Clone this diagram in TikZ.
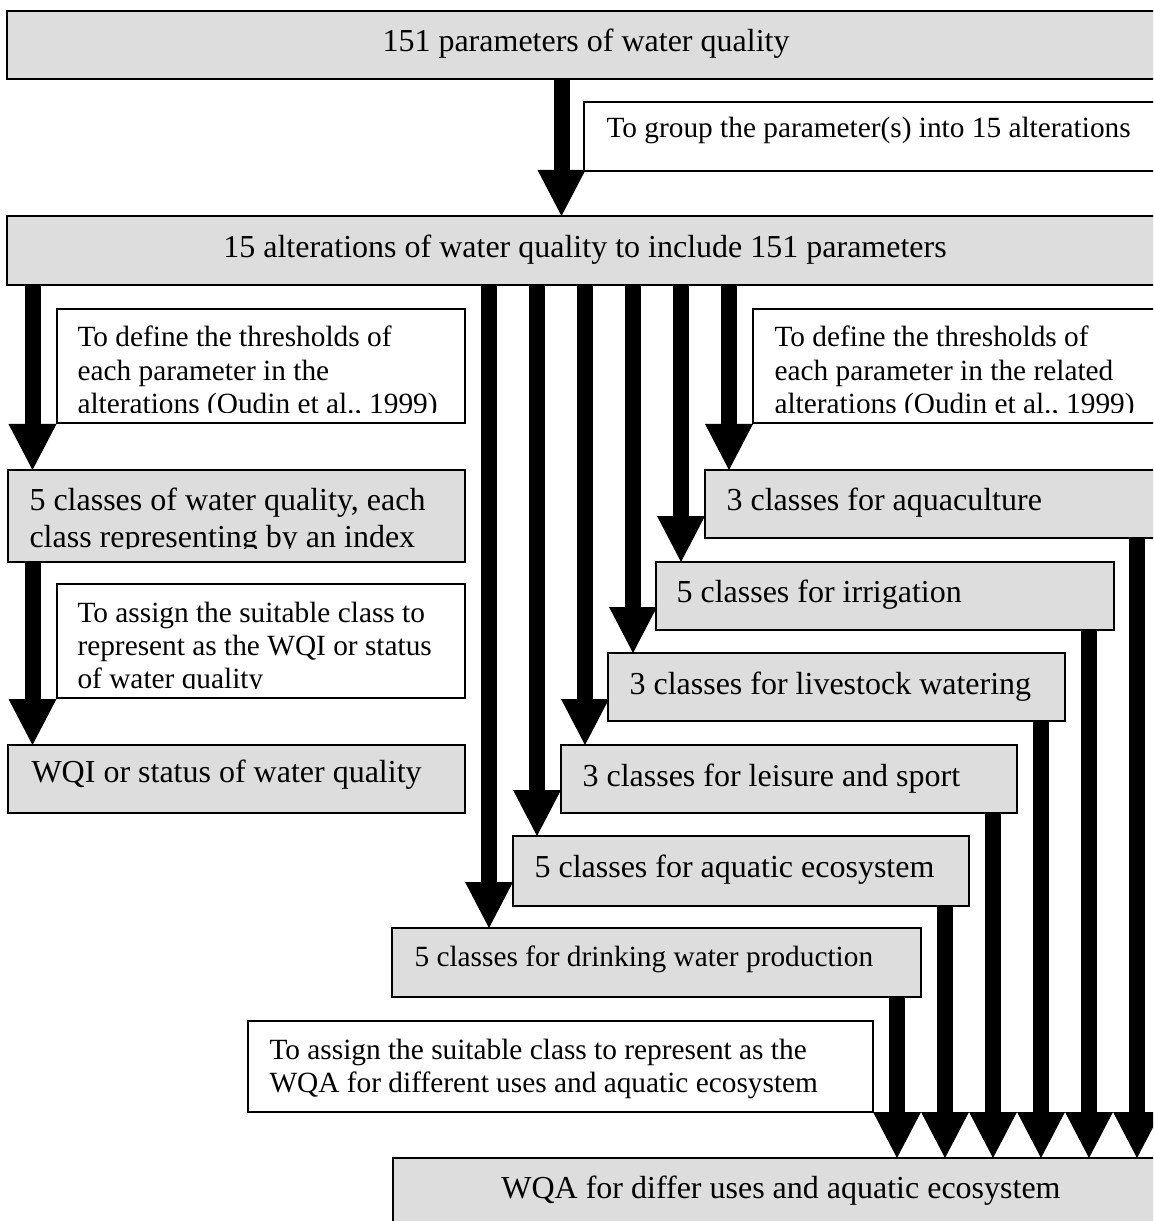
\documentclass[tikz,border=0pt]{standalone}
\usepackage{fontspec}
\setmainfont{Liberation Serif}
\usetikzlibrary{arrows.meta,fit,calc}
\definecolor{boxgray}{RGB}{221,221,221}
\tikzset{
  box/.style={draw=black, line width=0.8pt, inner sep=0pt, outer sep=0pt, fit={#1}},
  gbox/.style={box={#1}, fill=boxgray},
  wbox/.style={box={#1}, fill=white},
  bigtext/.style={font=\fontsize{12}{13.9}\selectfont, inner sep=0pt, anchor=base west},
  smalltext/.style={font=\fontsize{11}{12.4}\selectfont, inner sep=0pt, anchor=base west},
  ctext/.style={bigtext, anchor=base},
  flow/.style={line width=6pt, -{Triangle[width=18pt,length=17.25pt,line width=0pt]}},
}
\newcommand{\mylines}[1]{\parbox[t]{300pt}{\raggedright #1}}
\begin{document}
\begin{tikzpicture}[x=0.375pt,y=-0.375pt]
\useasboundingbox (0,0) rectangle (1153,1221);
\clip (0,0) rectangle (1153,1221);

% column coordinates
\coordinate (cT) at (561.5,0);
\coordinate (cL) at (32.5,0);
\coordinate (d1) at (489,0);
\coordinate (d2) at (537,0);
\coordinate (d3) at (585,0);
\coordinate (d4) at (633,0);
\coordinate (d5) at (681,0);
\coordinate (d6) at (729,0);
\coordinate (u1) at (897,0);
\coordinate (u2) at (945,0);
\coordinate (u3) at (993,0);
\coordinate (u4) at (1041,0);
\coordinate (u5) at (1089,0);
\coordinate (u6) at (1137,0);

% boxes
\node[gbox={(7,11) (1165,79)}] (top) {};
\node[wbox={(584,102) (1165,171)}] (grp) {};
\node[gbox={(7,216) (1165,285)}] (alt) {};
\node[wbox={(57,309) (465,423)}] (lA) {};
\node[gbox={(8,470) (465,562)}] (cls) {};
\node[wbox={(57,584) (465,698)}] (lB) {};
\node[gbox={(8,745) (465,813)}] (wqi) {};
\node[wbox={(753,309) (1165,423)}] (lC) {};
\node[gbox={(705,470) (1165,538)}] (aqua) {};
\node[gbox={(656,562) (1114,630)}] (irr) {};
\node[gbox={(608,653) (1065,721)}] (live) {};
\node[gbox={(561,745) (1017,813)}] (leis) {};
\node[gbox={(513,836) (969,906)}] (eco) {};
\node[gbox={(392,928) (921,997)}] (drink) {};
\node[wbox={(248,1021) (873,1112)}] (lD) {};
\node[gbox={(393,1158) (1169,1240)}] (wqa) {};

% texts
\node[ctext] (tTop) at (586,52) {151 parameters of water quality};
\node[smalltext] (tGrp) at (606,138) {To group the parameter(s) into 15 alterations};
\node[ctext] (tAlt) at (585,258) {15 alterations of water quality to include 151 parameters};

\begin{scope}
\clip (lA.north west) rectangle ($(lA.south east)+(0,-10)$);
\node[smalltext] (tA) at (77,347) {\mylines{To define the thresholds of\\each parameter in the\\alterations (Oudin et al., 1999)}};
\end{scope}
\begin{scope}
\clip (cls.north west) rectangle ($(cls.south east)+(0,-14)$);
\node[bigtext] (tCls) at (29,510) {\mylines{5 classes of water quality, each\\class representing by an index}};
\end{scope}
\begin{scope}
\clip (lB.north west) rectangle ($(lB.south east)+(0,-10)$);
\node[smalltext] (tB) at (77,622) {\mylines{To assign the suitable class to\\represent as the WQI or status\\of water quality}};
\end{scope}
\node[bigtext] (tWqi) at (31,782) {WQI or status of water quality};
\begin{scope}
\clip (lC.north west) rectangle ($(lC.south east)+(0,-10)$);
\node[smalltext] (tC) at (774,347) {\mylines{To define the thresholds of\\each parameter in the related\\alterations (Oudin et al., 1999)}};
\end{scope}
\node[bigtext] (tAqua) at (726,510) {3 classes for aquaculture};
\node[bigtext] (tIrr) at (676,602) {5 classes for irrigation};
\node[bigtext] (tLive) at (629,694) {3 classes for livestock watering};
\node[bigtext] (tLeis) at (582,786) {3 classes for leisure and sport};
\node[bigtext] (tEco) at (534,877) {5 classes for aquatic ecosystem};
\node[smalltext] (tDrink) at (414,966) {5 classes for drinking water production};
\node[smalltext] (tD) at (269,1059) {\mylines{To assign the suitable class to represent as the\\WQA for different uses and aquatic ecosystem}};
\node[ctext] (tWqa) at (781,1198) {WQA for differ uses and aquatic ecosystem};

% arrows
\draw[flow] (top.south -| cT) -- (alt.north -| cT);
\draw[flow] (alt.south -| cL) -- (cls.north -| cL);
\draw[flow] (cls.south -| cL) -- (wqi.north -| cL);
\draw[flow] (alt.south -| d1) -- (drink.north -| d1);
\draw[flow] (alt.south -| d2) -- (eco.north -| d2);
\draw[flow] (alt.south -| d3) -- (leis.north -| d3);
\draw[flow] (alt.south -| d4) -- (live.north -| d4);
\draw[flow] (alt.south -| d5) -- (irr.north -| d5);
\draw[flow] (alt.south -| d6) -- (aqua.north -| d6);
\draw[flow] (drink.south -| u1) -- (wqa.north -| u1);
\draw[flow] (eco.south -| u2) -- (wqa.north -| u2);
\draw[flow] (leis.south -| u3) -- (wqa.north -| u3);
\draw[flow] (live.south -| u4) -- (wqa.north -| u4);
\draw[flow] (irr.south -| u5) -- (wqa.north -| u5);
\draw[flow] (aqua.south -| u6) -- (wqa.north -| u6);
\end{tikzpicture}
\end{document}
